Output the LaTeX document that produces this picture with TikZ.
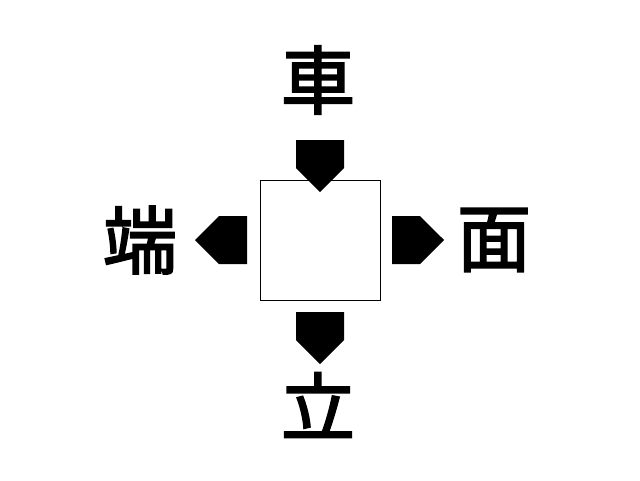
\documentclass[tikz,border=0pt]{standalone}
\usepackage{fontspec}
\newfontfamily\cjk[AutoFakeBold=2.5]{Noto Sans CJK JP}
\usetikzlibrary{shapes.arrows,positioning}
\tikzset{every picture/.style={line width=0.75pt}}
\tikzset{
  kanji/.style={font=\cjk\bfseries\fontsize{74}{74}\selectfont,inner sep=0pt},
  blockarrow/.style={single arrow,fill=black,draw=none,minimum width=48pt,
    single arrow head extend=0pt,single arrow head indent=0pt,minimum height=52pt,inner sep=0pt,
    single arrow tip angle=90}
}
\begin{document}
\begin{tikzpicture}[x=1pt,y=1pt,yscale=-1]
\useasboundingbox (0,0) rectangle (640,480);
%center box
\node [draw,line width=0.6pt,minimum size=120pt,inner sep=0pt] (box) at (320,240) {};
% Text Node
\node [kanji] (top) at (318,80) {車};
\node [kanji] (left) at (140,240) {端};
\node [kanji] (right) at (494,240) {面};
\node [kanji] (bottom) at (318,405) {立};
% arrows
\node [blockarrow,rotate=-90] (atop) at (320,154) {};
\node [blockarrow,rotate=180] (aleft) at (233,240) {};
\node [blockarrow] (aright) at (406,240) {};
\node [blockarrow,rotate=-90] (abottom) at (320,326) {};
\end{tikzpicture}
\end{document}
